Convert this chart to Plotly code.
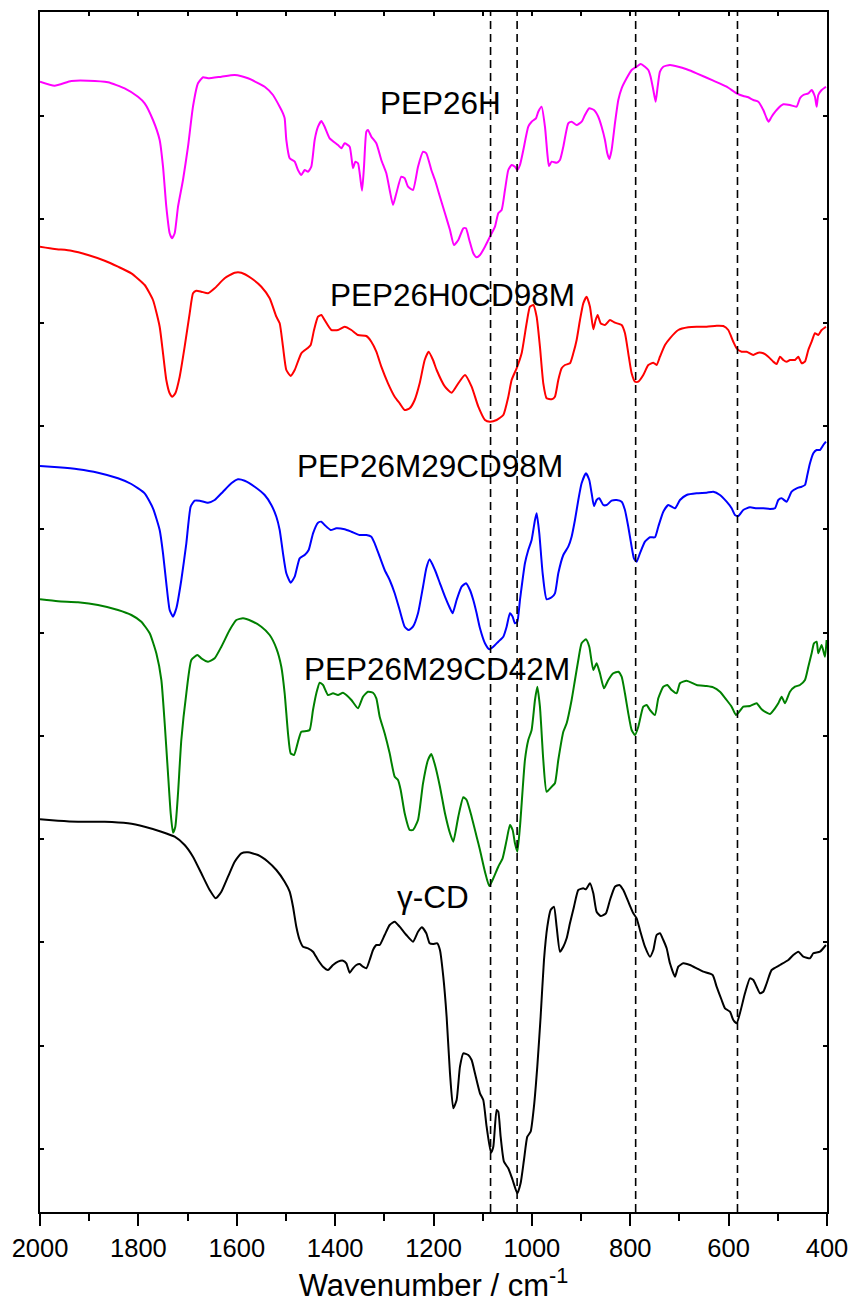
import plotly.graph_objects as go

# ---- data: (wavenumber cm-1, offset transmittance a.u.) ----
PEP26H = [(2000,1130.3),(1970.2,1126.3),(1936.3,1131),(1902.4,1131.3),(1861.8,1129.7),(1827.9,1123.7),
 (1800.8,1115.3),(1787.2,1108.7),(1770.3,1092),(1756.7,1072),(1749.9,1045.3),(1743.2,1005.3),(1736.4,978.7),
 (1731.6,973.7),(1726.2,978.7),(1719.4,1005.3),(1709.3,1032),(1699.1,1065.3),(1689.0,1105.3),(1678.8,1128.7),
 (1668.6,1134.7),(1658.4,1133.7),(1631.3,1135.3),(1604.2,1137),(1577.1,1133.7),(1543.2,1125.3),(1526.3,1117),
 (1512.7,1105.3),(1506.0,1098.7),(1502.6,1093.7),(1499.2,1072),(1492.4,1053.7),(1482.2,1050.3),(1475.5,1042),
 (1468.7,1037),(1461.9,1042),(1455.1,1040.3),(1448.4,1045.3),(1441.6,1072),(1434.8,1085.3),(1428.0,1091),
 (1421.3,1085.3),(1411.1,1073.7),(1394.2,1067),(1387.4,1063.7),(1380.6,1068.7),(1370.4,1065.3),(1363.7,1043.7),
 (1358.9,1050.3),(1353.5,1048.7),(1345.3,1021.3),(1341.3,1045.3),(1336.5,1080.3),(1333.2,1082),(1326.4,1075.3),
 (1316.2,1068.7),(1306.1,1052),(1295.9,1038.7),(1289.1,1022),(1282.3,1007),(1275.5,1018.7),(1265.4,1035.3),
 (1258.6,1033.7),(1251.8,1025.3),(1241.7,1022),(1231.5,1045.3),(1221.3,1060.3),(1214.6,1058.7),(1204.4,1042),
 (1197.0,1032),(1186.9,1015.3),(1176.7,998.7),(1166.5,982),(1158.4,967),(1149.6,972),(1139.4,983.7),(1134.0,983.7),
 (1127.2,972),(1119.1,958.7),(1112.3,954.7),(1105.5,957),(1095.4,965.3),(1085.2,975.3),(1075.0,985.3),
 (1068.3,998.7),(1061.5,1002),(1054.7,1022),(1047.9,1042),(1041.2,1047),(1034.4,1045.3),(1029.6,1042),
 (1024.2,1047),(1017.4,1062),(1007.3,1085.3),(1000.5,1090.3),(991.7,1093.7),(987.0,1100.3),(980.2,1105.3),
 (973.4,1085.3),(968.6,1058.7),(965.3,1046),(959.8,1050.3),(949.7,1049.3),(942.9,1052),(936.1,1065.3),
 (926.0,1088.7),(919.2,1090.3),(909.0,1087),(898.8,1090.3),(892.1,1097),(883.3,1103.7),(873.8,1102),
 (865.0,1095.3),(858.2,1085.3),(851.4,1072),(846.7,1058.7),(842.6,1053),(837.9,1062),(831.1,1088.7),
 (824.3,1112),(817.5,1123.7),(807.4,1133.7),(797.2,1142),(787.0,1145.3),(778.9,1148),(770.1,1145.3),
 (763.3,1142),(758.6,1135.3),(753.1,1122),(748.4,1110.3),(744.3,1125.3),(739.6,1140.3),(732.8,1145.3),
 (719.3,1147),(702.3,1145.3),(685.4,1142.7),(665.1,1138.7),(631.1,1131.3),(604.0,1125.3),(583.7,1118.7),
 (570.2,1116),(560.0,1114.7),(549.8,1112),(539.7,1110.3),(529.5,1102),(522.7,1093.7),(518.7,1090.3),
 (512.6,1095.3),(502.4,1102),(488.8,1107.7),(475.3,1107),(461.8,1105.3),(455.0,1113.7),(448.2,1117),
 (438.0,1118.7),(431.2,1122),(424.5,1115.3),(421.1,1105.3),(417.7,1117),(410.9,1122),(402.1,1125.3)]

PEP26H0CD98M = [(2000,965.3),(1970.2,963),(1936.3,961.3),(1902.4,957),(1868.5,951.3),(1841.4,945.3),
 (1814.3,938.7),(1787.2,927),(1770.3,912),(1756.7,885.3),(1749.9,858.7),(1743.2,832),(1736.4,818.7),
 (1731.0,815.3),(1724.9,818.7),(1716.0,835.3),(1705.9,865.3),(1695.7,898.7),(1688.9,918.7),(1682.2,921.3),
 (1672.0,920.3),(1658.4,918.7),(1644.9,923.7),(1624.6,933.7),(1604.2,939.3),(1590.7,939.3),(1570.3,933.7),
 (1550.0,925.3),(1533.1,913.7),(1519.5,895.3),(1512.7,888.7),(1506.0,865.3),(1499.2,842),(1490.4,836),
 (1482.2,842),(1468.7,858.7),(1456.5,863.7),(1449.7,867),(1442.9,882),(1434.8,895.3),(1428.0,897),
 (1421.3,892),(1407.7,882),(1394.2,882),(1380.6,885.3),(1367.0,882),(1353.5,877),(1336.5,876),(1326.4,870.3),
 (1316.2,860.3),(1306.1,845.3),(1292.5,828.7),(1278.9,815.3),(1268.8,808.7),(1258.6,802),(1248.4,803.7),
 (1238.3,812),(1228.1,828.7),(1217.9,852),(1209.8,860.3),(1201.0,852),(1193.6,842),(1176.7,825.3),
 (1163.2,819.3),(1149.6,828.7),(1136.0,837),(1122.5,825.3),(1108.9,805.3),(1095.4,792),(1085.2,790.3),
 (1071.7,792),(1058.1,797),(1047.9,815.3),(1041.2,832),(1031.0,843.7),(1020.8,858.7),(1010.7,888.7),
 (1003.9,905.3),(997.1,907),(990.3,895.3),(983.6,865.3),(976.8,828.7),(970.0,813.7),(959.8,812.7),
 (953.1,815.3),(946.3,832),(939.5,843.7),(932.7,847),(922.6,848.7),(915.8,858.7),(909.0,872),(902.2,892),
 (895.5,908.7),(888.7,915.3),(881.9,905.3),(875.1,882.7),(870.4,892),(866.3,897),(860.2,888.7),(851.4,887),
 (841.2,892),(831.1,889.3),(817.5,887),(810.7,878.7),(804.0,858.7),(797.2,838.7),(790.4,830.3),(783.6,830.3),
 (773.5,837),(763.3,847),(753.1,849.3),(746.4,847),(739.6,855.3),(729.4,867),(719.3,873.7),(702.3,882),
 (682.0,884.7),(665.0,885.3),(644.7,885.3),(624.4,886.3),(610.8,886),(600.7,882),(590.5,870.3),(583.7,863.7),
 (573.6,860.3),(563.4,860.3),(549.8,857),(539.7,859.3),(529.5,858.7),(519.3,855.3),(509.2,850.3),(502.4,848),
 (495.6,855.3),(488.8,852),(482.1,850.3),(475.3,852),(465.1,852),(458.3,855.3),(451.6,848.7),(444.8,850.3),
 (438.0,862),(431.2,870.3),(424.5,878.7),(417.7,877),(410.9,882),(402.1,885.3)]

PEP26M29CD98M = [(2000,746),(1963.4,744.7),(1922.7,742.7),(1882.1,739.3),(1841.4,733.7),(1814.3,728),
 (1787.2,718.7),(1770.3,703.7),(1756.7,682),(1749.9,658.7),(1743.2,628.7),(1736.4,602),(1729.6,595.3),
 (1722.8,603.7),(1712.7,632),(1702.5,668.7),(1693.7,705.3),(1685.6,711.3),(1675.4,711.3),(1658.4,709.3),
 (1644.9,712),(1628.0,720.3),(1611.0,728.7),(1597.5,732.7),(1583.9,731.3),(1563.6,725.3),(1543.2,717),
 (1529.7,707),(1519.5,695.3),(1512.7,682),(1506.0,658.7),(1499.2,638.7),(1490.4,629.3),(1482.2,635.3),
 (1472.1,653.7),(1461.9,657),(1453.8,662),(1444.9,678.7),(1434.8,689.3),(1428.0,690.3),(1421.3,687),
 (1409.1,682),(1397.5,683.7),(1380.6,682.7),(1367.0,680.3),(1350.1,677),(1336.5,677),(1326.4,675.3),
 (1319.6,668.7),(1309.4,655.3),(1299.3,642),(1289.1,632),(1278.9,618.7),(1268.8,602),(1258.6,585.3),
 (1250.5,582),(1241.7,585.3),(1231.5,598.7),(1221.3,625.3),(1214.6,643.7),(1207.8,652.7),(1197.0,642),
 (1186.9,628.7),(1176.7,615.3),(1166.5,603.7),(1161.1,598.7),(1153.0,612),(1142.8,625.3),(1134.0,628.7),
 (1125.9,622),(1119.1,612),(1112.3,598.7),(1105.5,583.7),(1095.4,568.7),(1086.6,562.7),(1078.4,565.3),
 (1068.3,570.3),(1058.1,575.3),(1051.3,585.3),(1044.6,598.7),(1039.1,595.3),(1034.4,588.7),(1029.6,590.3),
 (1024.2,612),(1014.1,648.7),(1007.3,662),(1000.5,672),(993.7,692),(990.3,698.7),(984.9,678.7),(978.1,638.7),
 (970.0,612.7),(959.8,614.7),(953.1,618.7),(946.3,638.7),(936.1,657),(926.0,665.3),(919.2,675.3),(912.4,692),
 (905.6,712),(898.9,728.7),(890.1,738.7),(883.3,732),(878.5,718.7),(873.8,706),(868.4,712),(863.0,713.7),
 (854.8,707),(848.0,707),(837.9,711.3),(827.7,712),(817.5,710.3),(810.8,702),(804.0,685.3),(797.2,665.3),
 (792.5,653.7),(787.0,650.3),(780.3,658.7),(770.1,670.3),(759.9,674.7),(749.8,674.7),(743.0,685.3),
 (732.8,700.3),(722.6,707),(709.1,703.7),(698.9,712),(685.4,717),(665.0,718.7),(644.7,719.3),(631.2,720.3),
 (617.6,717),(604.1,710.3),(593.9,703.7),(587.1,697),(580.3,696),(570.2,702),(556.6,704.7),(543.1,703.7),
 (529.5,703.7),(515.9,703),(505.8,703.7),(499.0,712),(492.2,713.7),(482.1,710.3),(471.9,720.3),(461.7,723.7),
 (451.6,725.3),(444.8,727),(440.0,737),(434.6,748.7),(427.8,758.7),(421.1,762),(414.3,762),(407.5,767),
 (402.1,770.3)]

PEP26M29CD42M = [(2000,612.7),(1963.4,610.7),(1922.7,609.7),(1882.1,607),(1841.4,602),(1814.3,597),
 (1794.0,590.3),(1777.0,578.7),(1763.5,558.7),(1753.3,532),(1746.5,488.7),(1739.8,438.7),(1734.3,398.7),
 (1729.6,379.3),(1724.9,385.3),(1719.4,418.7),(1712.7,472),(1702.5,518.7),(1692.3,552),(1680.1,557),
 (1672.0,553.7),(1658.4,550.3),(1644.9,553.7),(1631.3,565.3),(1614.4,582),(1600.8,592),(1587.3,593.7),
 (1570.3,591),(1550.0,585.3),(1533.1,577),(1519.5,563.7),(1509.4,545.3),(1502.6,518.7),(1495.8,478.7),
 (1490.4,458.7),(1483.6,457),(1475.5,470.3),(1468.7,480.3),(1458.5,481),(1451.8,482),(1445.0,502),
 (1438.2,518.7),(1431.4,529.3),(1424.6,527),(1414.5,517),(1404.3,518.7),(1394.2,517),(1384.0,519.3),
 (1377.2,517),(1367.0,512),(1353.5,503.7),(1343.3,515.3),(1333.2,520.3),(1323.0,519.3),(1316.2,513.7),
 (1309.4,495.3),(1299.3,478.7),(1289.1,458.7),(1278.9,435.3),(1272.2,432),(1266.7,422),(1258.6,398.7),
 (1248.4,382),(1241.7,382),(1231.5,392),(1221.3,428.7),(1211.2,452),(1204.4,458),(1197.0,447),(1186.9,425.3),
 (1176.7,398.7),(1166.5,378.7),(1159.8,370.3),(1149.6,395.3),(1139.4,414.7),(1132.7,412),(1122.5,395.3),
 (1112.3,375.3),(1105.5,362),(1095.4,340.3),(1086.6,326),(1078.4,333.7),(1068.3,345.3),(1059.5,353.7),
 (1051.3,372),(1044.6,387),(1039.1,382),(1034.4,368.7),(1029.6,360.3),(1024.2,385.3),(1014.1,452),
 (1007.3,472),(1000.5,482),(993.7,512),(989.0,525.3),(983.6,505.3),(976.8,452),(970.0,420.3),(959.8,425.3),
 (953.1,428.7),(946.3,452),(936.1,480.3),(929.3,488.7),(919.2,512),(912.4,532),(905.6,552),(898.9,568.7),
 (890.1,572.7),(883.3,565.3),(875.1,542),(868.4,548.7),(861.6,538.7),(853.4,523.7),(844.6,532),(834.5,538.7),
 (824.3,540.3),(817.5,535.3),(810.8,518.7),(804.0,498.7),(797.2,482),(790.4,477),(783.6,485.3),(773.5,505.3),
 (766.7,507),(759.9,502),(749.8,497),(743.0,513.7),(732.8,525.3),(724.7,527),(715.9,522),(705.7,518.7),
 (698.9,528.7),(685.4,531.3),(665.0,527),(644.7,526),(631.2,524.7),(617.6,520.3),(604.1,512),(593.9,505.3),
 (585.1,497),(578.3,500.3),(570.2,505.3),(556.6,506),(543.1,508.7),(532.9,502.7),(522.7,499.3),(515.9,498),
 (505.8,503.7),(499.0,508.7),(492.2,515.3),(485.4,508.7),(475.3,520.3),(465.1,525.3),(455.0,527),(444.8,532),
 (438.0,545.3),(431.2,558.7),(426.5,568.7),(421.1,570.3),(417.7,558.7),(410.9,567),(404.1,555.3),(400.8,572)]

GAMMA_CD = [(2000,392.7),(1963.4,391.3),(1922.7,390.3),(1868.5,390.3),(1821.1,388.7),(1787.2,385.3),
 (1753.3,380.3),(1726.2,375.3),(1705.9,367),(1689.0,355.3),(1672.0,338.7),(1655.1,322),(1642.9,313.7),
 (1631.3,320.3),(1617.8,335.3),(1604.2,350.3),(1590.7,358.7),(1577.1,359.7),(1556.8,357),(1536.5,350.3),
 (1519.5,342),(1502.6,330.3),(1492.4,320.3),(1485.6,305.3),(1478.9,285.3),(1472.1,272),(1465.3,265.3),
 (1455.1,263.7),(1445.0,260.3),(1434.8,252),(1424.6,245.3),(1414.5,242),(1404.3,247),(1394.2,250.3),
 (1384.0,251.3),(1377.2,248.7),(1370.4,239.3),(1363.7,243.7),(1356.9,247),(1350.1,248),(1343.3,245.3),
 (1336.5,243.7),(1329.8,252),(1323.0,262),(1316.2,267),(1309.4,267),(1299.3,277),(1289.1,287),(1278.9,290.3),
 (1268.8,285.3),(1255.2,277),(1241.7,270.3),(1231.5,280.3),(1223.4,284.7),(1214.6,278.7),(1207.8,268.7),
 (1201.0,268),(1192.3,268.7),(1186.9,262),(1180.1,235.3),(1173.3,195.3),(1166.5,138.7),(1159.8,103.7),
 (1153.0,112),(1146.2,145.3),(1139.4,158.7),(1129.3,157),(1122.5,152),(1115.7,138.7),(1105.5,118.7),
 (1098.8,112),(1092.0,85.3),(1083.2,59.3),(1078.4,65.3),(1071.7,102),(1068.3,100.3),(1063.5,75.3),
 (1056.8,50.3),(1048.0,43.7),(1039.1,32),(1029.6,18.7),(1022.9,28.7),(1016.1,52),(1009.3,75.3),(1002.5,80.3),
 (995.8,105.3),(989.0,145.3),(982.2,195.3),(975.4,252),(968.6,285.3),(961.9,302),(955.1,305.3),(949.7,285.3),
 (942.9,260.3),(936.1,265.3),(929.3,273.7),(922.6,288.7),(914.4,305.3),(905.6,322),(895.5,323.7),(890.0,322.7),
 (881.9,328.7),(875.1,318.7),(868.4,300.3),(860.2,296),(849.4,298.7),(841.2,312),(831.1,325.3),(822.3,327),
 (814.1,322),(804.0,310.3),(793.8,298.7),(787.0,293.7),(780.3,282),(770.1,265.3),(759.9,255.3),(753.1,262),
 (746.4,277),(739.6,278.7),(732.8,272),(726.0,263.7),(719.3,248.7),(709.1,235.3),(702.3,245.3),(692.2,248.7),
 (678.6,247),(665.0,243.7),(651.5,240.3),(632.5,237),(624.4,225.3),(614.2,212),(607.4,203.7),(597.3,200.3),
 (590.5,192),(583.7,188.7),(577.0,198.7),(566.8,218.7),(556.6,233.7),(549.8,232),(543.1,225.3),(536.3,218.7),
 (529.5,220.3),(522.7,228.7),(512.6,242),(495.6,247),(478.6,252),(468.5,257),(458.3,260.3),(448.2,255.3),
 (434.6,253.7),(427.9,258.7),(414.3,260.3),(402.1,267)]

SERIES_NAMES = ["PEP26H", "PEP26H0CD98M", "PEP26M29CD98M", "PEP26M29CD42M", "γ-CD"]
SERIES_DATA = [PEP26H, PEP26H0CD98M, PEP26M29CD98M, PEP26M29CD42M, GAMMA_CD]
SERIES_COLORS = ["#FF00FF", "#FF0000", "#0000FF", "#008000", "#000000"]
# label anchor positions (wavenumber, intensity)
LABEL_POS = [(1185, 1109), (1161, 917), (1207, 746), (1193, 543), (1201, 315)]
DASH_WN = [1084, 1030, 789, 582]

FONT = "Arial, Liberation Sans, sans-serif"
fig = go.Figure()

for name, data, col in zip(SERIES_NAMES, SERIES_DATA, SERIES_COLORS):
    fig.add_trace(go.Scatter(x=[p[0] for p in data], y=[p[1] for p in data], mode="lines",
                             line=dict(color=col, width=2, shape="spline", smoothing=0.5),
                             name=name, showlegend=False))

dx, dy = [], []
for w in DASH_WN:
    dx += [w, w, None]
    dy += [0, 1200, None]
fig.add_trace(go.Scatter(x=dx, y=dy, xaxis="x2", mode="lines",
                         line=dict(color="black", width=1.6, dash="8px,5px"), showlegend=False,
                         hoverinfo="skip"))

for name, (lx, ly) in zip(SERIES_NAMES, LABEL_POS):
    fig.add_annotation(x=lx, y=ly, xref="x", yref="y", text=name, showarrow=False,
                       font=dict(family=FONT, size=31.5, color="black"),
                       xanchor="center", yanchor="middle")

fig.update_layout(
    width=851, height=1313,
    margin=dict(l=40, r=24, t=12, b=101, autoexpand=False),
    paper_bgcolor="white", plot_bgcolor="white",
    font=dict(family=FONT, color="black"),
    xaxis=dict(range=[2000, 400], dtick=200, tick0=0, ticks="outside", ticklen=12, tickwidth=2,
               tickcolor="black", showline=True, linecolor="black", linewidth=2, mirror=True,
               showgrid=False, zeroline=False, automargin=False, tickfont=dict(size=25.5, family=FONT),
               minor=dict(dtick=100, ticks="outside", ticklen=7, tickwidth=2, tickcolor="black"),
               title=dict(text="Wavenumber / cm<sup>-1</sup>", font=dict(size=31, family=FONT), standoff=14)),
    xaxis2=dict(range=[2000, 400], overlaying="x", side="top", dtick=100, tick0=0, ticks="inside",
                ticklen=4, tickwidth=2, tickcolor="black", showticklabels=False, showline=False,
                showgrid=False, zeroline=False, automargin=False),
    yaxis=dict(range=[0, 1200], tick0=63, dtick=103.3, ticks="inside", ticklen=4, tickwidth=2,
               tickcolor="black", showticklabels=False, showline=True, linecolor="black", linewidth=2,
               mirror="ticks", showgrid=False, zeroline=False, automargin=False),
)

fig.write_html("out.html")
